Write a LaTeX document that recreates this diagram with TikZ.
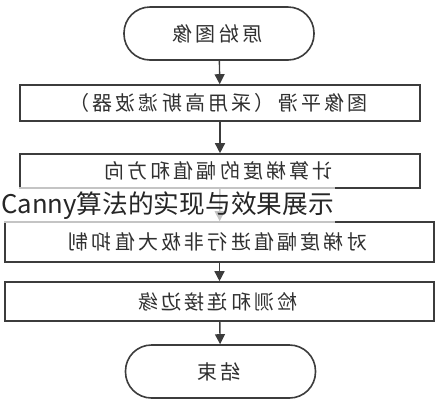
\documentclass[tikz,border=0pt]{standalone}
\usepackage{graphicx}
\usepackage{fontspec}
\setmainfont{Noto Sans CJK SC}
\newfontfamily\boxfont[LetterSpace=16]{Noto Sans CJK SC}
\usetikzlibrary{shapes, arrows.meta, positioning}
\definecolor{linegray}{HTML}{3C3C3C}
\definecolor{textgray}{HTML}{303030}
\tikzstyle{block} = [draw=linegray, line width=1.6pt, fill=white, rectangle, inner sep=0pt, text=textgray]
\tikzstyle{term} = [block, rounded corners=26pt, minimum width=190pt, minimum height=53pt]
\newcommand{\mirrored}[1]{\reflectbox{\boxfont\fontsize{20}{20}\selectfont #1\hspace{-3.2pt}}}

\begin{document}
\begin{tikzpicture}[x=1pt, y=-1pt, >={Triangle[width=10pt,length=10pt]}]
    \useasboundingbox (0,0) rectangle (439,400);
    \node[term] (start) at (219,33.5) {\mirrored{原始图像}};
    \node[block, minimum width=400pt, minimum height=36pt] (smooth) at (220,103) {\mirrored{图像平滑（采用高斯滤波器）}};
    \node[block, minimum width=400pt, minimum height=34pt] (grad) at (220,171) {\mirrored{计算梯度的幅值和方向}};
    \node[block, minimum width=429pt, minimum height=40pt] (nms) at (219.5,242) {\mirrored{对梯度幅值进行非极大值抑制}};
    \node[block, minimum width=429pt, minimum height=39pt] (edge) at (219.5,301.5) {\mirrored{检测和连接边缘}};
    \node[term] (stop) at (220.5,371.5) {\mirrored{结束}};
    \draw[->, line width=1.4pt, linegray] (start) -- (smooth);
    \draw[->, line width=1.4pt, linegray] (smooth) -- (grad);
    \draw[->, line width=1.4pt, linegray] (grad) -- (nms);
    \draw[->, line width=1.4pt, linegray] (nms) -- (edge);
    \draw[->, line width=1.4pt, linegray] (edge) -- (stop);
    % caption laid over the chart
    \node[anchor=base west, fill=white, fill opacity=0.7, text opacity=1, inner xsep=1pt, inner ysep=4pt, text=black!85, font=\fontsize{25.7}{25.7}\selectfont] (caption) at (0,213) {Canny算法的实现与效果展示};
\end{tikzpicture}
\end{document}
